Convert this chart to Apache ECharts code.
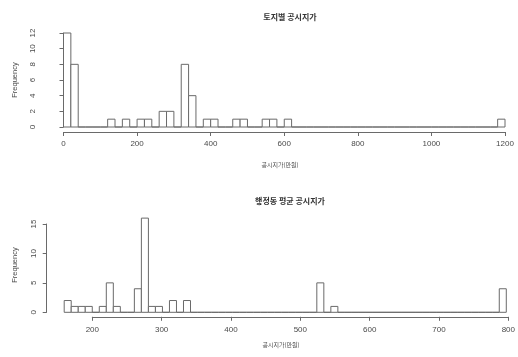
<!DOCTYPE html>
<html>
<head>
<meta charset="utf-8">
<script src="https://cdn.jsdelivr.net/npm/echarts@6/dist/echarts.min.js"></script>
<style>html,body{margin:0;padding:0;background:#fff}#c{width:518px;height:357px}</style>
</head>
<body>
<div id="c"></div>
<script>
// Top histogram: 토지별 공시지가 (bins of 20, from 0 to 1200)
var topTitle = '토지별 공시지가';
var topBinStart = 0;
var topBinWidth = 20;
var topCounts = [12, 8, 0, 0, 0, 0, 1, 0, 1, 0,
                 1, 1, 0, 2, 2, 0, 8, 4, 0, 1,
                 1, 0, 0, 1, 1, 0, 0, 1, 1, 0,
                 1, 0, 0, 0, 0, 0, 0, 0, 0, 0,
                 0, 0, 0, 0, 0, 0, 0, 0, 0, 0,
                 0, 0, 0, 0, 0, 0, 0, 0, 0, 1];
var topXTicks = [0, 200, 400, 600, 800, 1000, 1200];
var topYTicks = [0, 2, 4, 6, 8, 10, 12];

// Bottom histogram: 행정동 평균 공시지가 (bins of 10, from 160 to 790)
var botTitle = '행정동 평균 공시지가';
var botBinStart = 160;
var botBinWidth = 10;
var botCounts = [2, 1, 1, 1, 0, 1, 5, 1, 0, 0,
                 4, 16, 1, 1, 0, 2, 0, 2, 0, 0,
                 0, 0, 0, 0, 0, 0, 0, 0, 0, 0,
                 0, 0, 0, 0, 0, 0, 5, 0, 1, 0,
                 0, 0, 0, 0, 0, 0, 0, 0, 0, 0,
                 0, 0, 0, 0, 0, 0, 0, 0, 0, 0,
                 0, 0, 4];
var botXTicks = [200, 300, 400, 500, 600, 700, 800];
var botYTicks = [0, 5, 10, 15];

var xLabel = '공시지가(만원)';
var yLabel = 'Frequency';

function bins(start, width, counts) {
  return counts.map(function (c, i) { return [start + i * width, start + (i + 1) * width, c]; });
}

var LINE = '#6a6a6a';
var TEXT = '#4a4a4a';
var FONT = '"Liberation Sans", Arial, sans-serif';
var KFONT = '"Noto Sans CJK KR", sans-serif';

function plain(v) { return String(v); }

function renderBar(params, api) {
  var p0 = api.coord([api.value(0), 0]);
  var p1 = api.coord([api.value(1), api.value(2)]);
  return {
    type: 'rect',
    shape: { x: p0[0], y: p1[1], width: p1[0] - p0[0], height: p0[1] - p1[1] },
    style: { fill: '#fff', stroke: LINE, lineWidth: 1 }
  };
}

function xAxisCfg(gi, min, max, interval, show, offset, margin) {
  return {
    type: 'value', gridIndex: gi, min: min, max: max, interval: interval, show: show,
    offset: offset,
    axisLine: { show: true, onZero: false, lineStyle: { color: LINE, width: 1 } },
    axisTick: { show: true, length: 4, lineStyle: { color: LINE } },
    axisLabel: { show: true, fontSize: 8, color: TEXT, fontFamily: FONT, margin: margin, formatter: plain },
    splitLine: { show: false }
  };
}
function yAxisCfg(gi, min, max, interval, show, offset, margin) {
  return {
    type: 'value', gridIndex: gi, min: min, max: max, interval: interval, show: show,
    offset: offset,
    axisLine: { show: true, lineStyle: { color: LINE, width: 1 } },
    axisTick: { show: true, length: 4, lineStyle: { color: LINE } },
    axisLabel: { show: true, fontSize: 8, color: TEXT, fontFamily: FONT, rotate: 90, margin: margin, formatter: plain },
    splitLine: { show: false }
  };
}

var chart = echarts.init(document.getElementById('c'), null, { renderer: 'canvas' });
chart.setOption({
  animation: false,
  backgroundColor: '#fff',
  title: [
    { text: topTitle, left: 285, top: 8, textAlign: 'center',
      textStyle: { fontSize: 8, fontWeight: 'bold', color: '#333', fontFamily: KFONT } },
    { text: botTitle, left: 285, top: 192, textAlign: 'center',
      textStyle: { fontSize: 8, fontWeight: 'bold', color: '#333', fontFamily: KFONT } }
  ],
  grid: [
    { left: 63.5, right: 13, top: 33, bottom: 230 },     // top data
    { left: 64.2, right: 4.7, top: 224, bottom: 44.7 },  // bottom data
    { left: 92.3, right: 4.7, top: 224, bottom: 44.7 }   // bottom visible x axis
  ],
  xAxis: [
    xAxisCfg(0, topXTicks[0], topXTicks[topXTicks.length - 1], topXTicks[1] - topXTicks[0], true, 5, 8),
    xAxisCfg(1, botBinStart, botXTicks[botXTicks.length - 1], 10, false, 0, 8),
    xAxisCfg(2, botXTicks[0], botXTicks[botXTicks.length - 1], botXTicks[1] - botXTicks[0], true, 4.5, 9)
  ],
  yAxis: [
    yAxisCfg(0, topYTicks[0], topYTicks[topYTicks.length - 1], topYTicks[1] - topYTicks[0], true, 20.5, 6),
    yAxisCfg(1, botYTicks[0], botYTicks[botYTicks.length - 1], botYTicks[1] - botYTicks[0], true, 17.5, 9),
    yAxisCfg(2, 0, 15, 5, false, 0, 0)
  ],
  series: [
    { type: 'custom', xAxisIndex: 0, yAxisIndex: 0, renderItem: renderBar, clip: false,
      encode: { x: [0, 1], y: 2 }, data: bins(topBinStart, topBinWidth, topCounts) },
    { type: 'custom', xAxisIndex: 1, yAxisIndex: 1, renderItem: renderBar, clip: false,
      encode: { x: [0, 1], y: 2 }, data: bins(botBinStart, botBinWidth, botCounts) }
  ],
  graphic: [
    { type: 'text', x: 15, y: 80, rotation: Math.PI / 2,
      style: { text: yLabel, fill: TEXT, font: '7.5px ' + FONT, textAlign: 'center', textVerticalAlign: 'middle' } },
    { type: 'text', x: 15, y: 265, rotation: Math.PI / 2,
      style: { text: yLabel, fill: TEXT, font: '7.5px ' + FONT, textAlign: 'center', textVerticalAlign: 'middle' } },
    { type: 'text', x: 280, y: 165,
      style: { text: xLabel, fill: TEXT, font: '6px ' + KFONT, textAlign: 'center', textVerticalAlign: 'middle' } },
    { type: 'text', x: 281, y: 345,
      style: { text: xLabel, fill: TEXT, font: '6px ' + KFONT, textAlign: 'center', textVerticalAlign: 'middle' } }
  ]
});
</script>
</body>
</html>
